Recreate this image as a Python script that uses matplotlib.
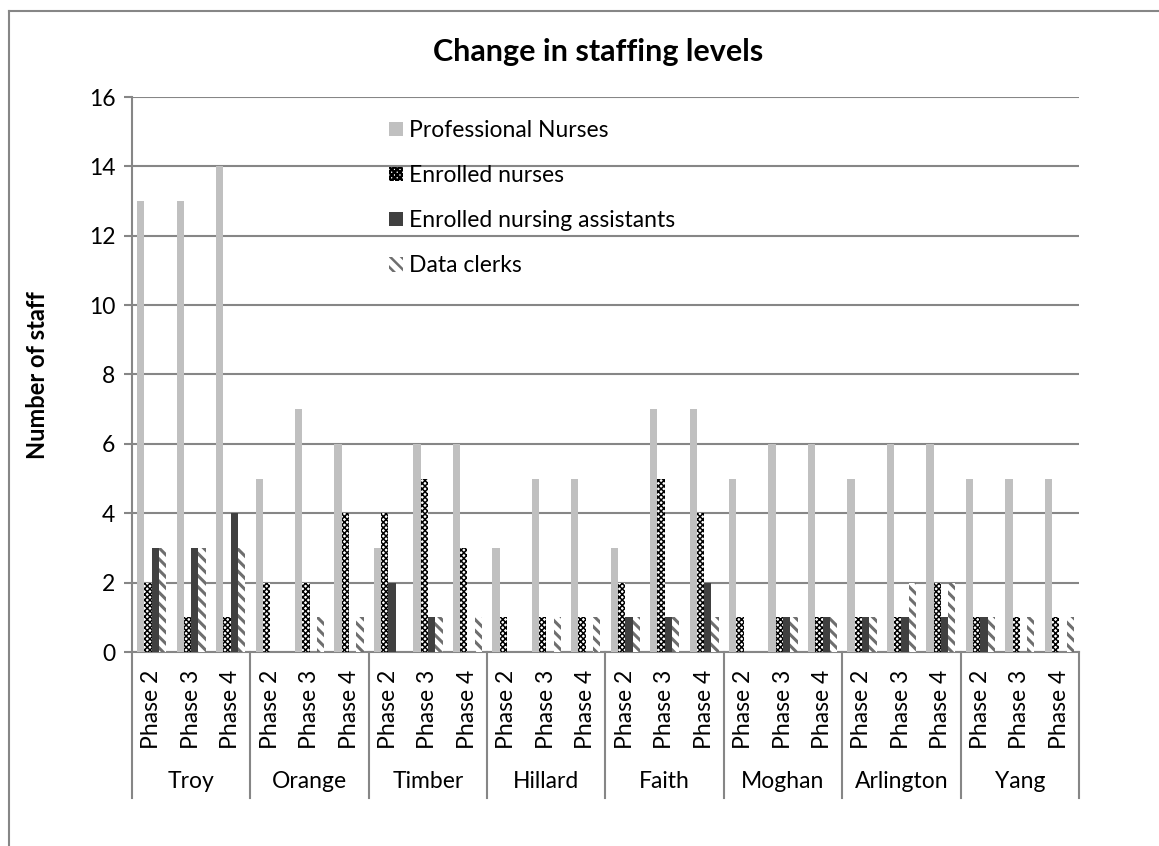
import numpy as np
import matplotlib
matplotlib.use('Agg')
import matplotlib.pyplot as plt
from matplotlib.lines import Line2D

plt.rcParams['font.family'] = ['Lato', 'DejaVu Sans']
plt.rcParams['hatch.linewidth'] = 1.8

# data
sites = ['Troy', 'Orange', 'Timber', 'Hillard', 'Faith', 'Moghan', 'Arlington', 'Yang']
phases = ['Phase 2', 'Phase 3', 'Phase 4']
series = ['Professional Nurses', 'Enrolled nurses', 'Enrolled nursing assistants', 'Data clerks']

prof_nurses = [13, 13, 14, 5, 7, 6, 3, 6, 6, 3, 5, 5, 3, 7, 7, 5, 6, 6, 5, 6, 6, 5, 5, 5]
enrolled_nurses = [2, 1, 1, 2, 2, 4, 4, 5, 3, 1, 1, 1, 2, 5, 4, 1, 1, 1, 1, 1, 2, 1, 1, 1]
nursing_assist = [3, 3, 4, 0, 0, 0, 2, 1, 0, 0, 0, 0, 1, 1, 2, 0, 1, 1, 1, 1, 1, 1, 0, 0]
data_clerks = [3, 3, 3, 0, 1, 1, 0, 1, 1, 0, 1, 1, 1, 1, 1, 0, 1, 1, 1, 2, 2, 1, 1, 1]

W, H = 1159, 846
fig = plt.figure(figsize=(W / 100, H / 100), dpi=100)
ax = fig.add_axes([132 / W, 1 - 652 / H, (1079 - 132) / W, (652 - 97) / H])

grid_c = '#868686'
fs = 16.5
n = len(sites) * len(phases)
x = np.arange(n)
bw = 0.185
styles = [
    dict(color='#c0c0c0'),
    dict(facecolor='white', edgecolor='black', hatch='xxxxxx', linewidth=0),
    dict(color='#404040'),
    dict(facecolor='white', edgecolor='#6e6e6e', hatch='\\\\\\', linewidth=0),
]
hatch_lw = [1.0, 1.1, 1.0, 2.2]
vals = [prof_nurses, enrolled_nurses, nursing_assist, data_clerks]
for i, (v, st, lab) in enumerate(zip(vals, styles, series)):
    with plt.rc_context({'hatch.linewidth': hatch_lw[i]}):
        ax.bar(x + (i - 1.5) * bw, v, bw, label=lab, zorder=3, **st)

ax.set_xlim(-0.5, n - 0.5)
ax.set_ylim(0, 16)
ax.set_yticks(range(0, 17, 2))
ax.yaxis.grid(True, color=grid_c, linewidth=1.5, zorder=0)
ax.set_axisbelow(True)
for s in ['top', 'right']:
    ax.spines[s].set_visible(False)
for s in ['left', 'bottom']:
    ax.spines[s].set_color(grid_c)
    ax.spines[s].set_linewidth(1.5)
ax.tick_params(axis='y', length=6, color=grid_c, width=1.5, labelsize=fs, pad=6)
ax.set_xticks(x)
ax.set_xticklabels(phases * len(sites), rotation=90, fontsize=fs)
ax.tick_params(axis='x', length=0, pad=13)

# group separators and site labels
trans = ax.get_xaxis_transform()
for g in range(len(sites) + 1):
    xb = g * 3 - 0.5
    ax.add_line(Line2D([xb, xb], [0, -0.263], transform=trans, color=grid_c,
                       linewidth=1.5, clip_on=False))
for g, name in enumerate(sites):
    ax.text(g * 3 + 1, -0.234, name, transform=trans, ha='center', va='center', fontsize=fs)

fig.text(38 / W, 1 - 375 / H, 'Number of staff', rotation=90, ha='center', va='center',
         fontsize=17, fontweight='bold')
fig.text(598 / W, 1 - 52 / H, 'Change in staffing levels', ha='center', va='center',
         fontsize=22, fontweight='bold')

ax.legend(loc='upper left', bbox_to_anchor=(380 / W, 1 - 111 / H), bbox_transform=fig.transFigure,
          frameon=False, fontsize=fs, handlelength=0.6, handleheight=0.6, handletextpad=0.25,
          labelspacing=1.05, borderaxespad=0)

# outer chart border
fig.add_artist(Line2D([8.5 / W, 8.5 / W], [0, 1 - 10.7 / H], color=grid_c, linewidth=1.5))
fig.add_artist(Line2D([8.5 / W, 1], [1 - 10.7 / H, 1 - 10.7 / H], color=grid_c, linewidth=1.5))

fig.savefig('out.png', dpi=100)
